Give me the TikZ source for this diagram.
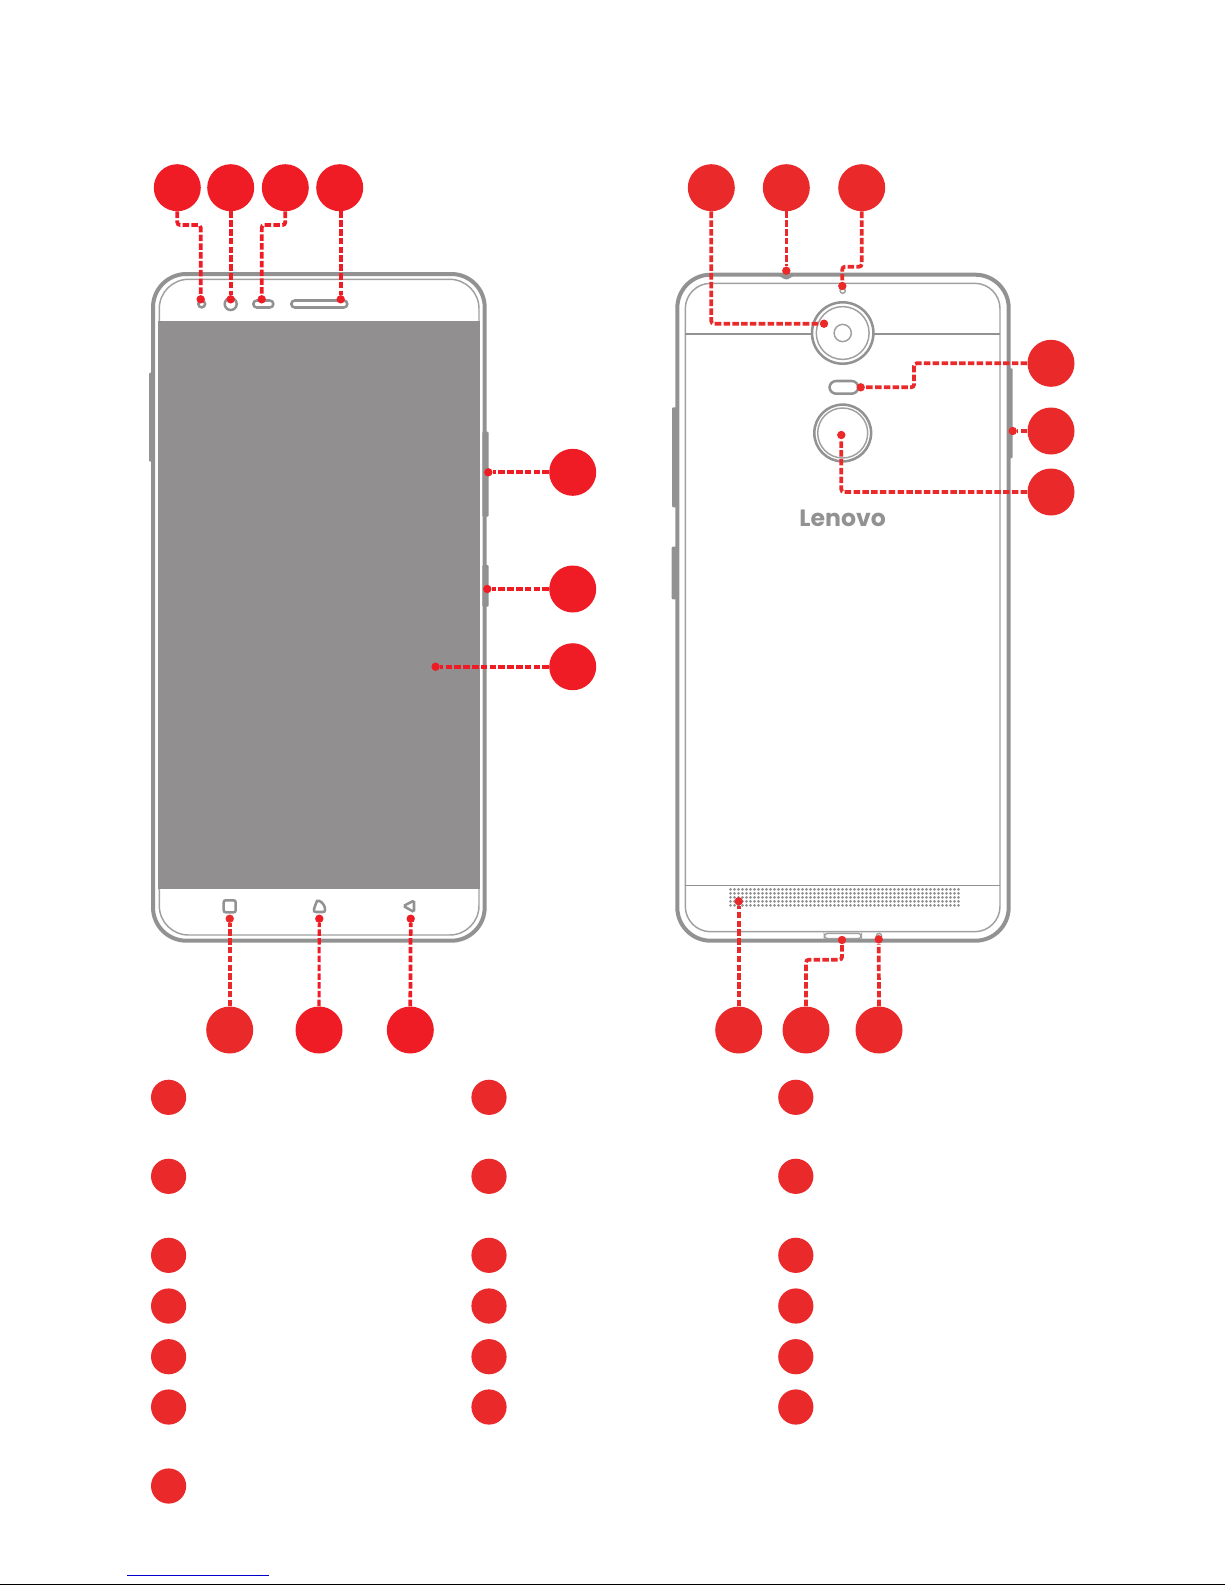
\documentclass[tikz,border=0pt]{standalone}
\usepackage{fontspec}
\newfontfamily\logofont{Poppins}
\definecolor{rouge}{RGB}{239, 28, 37}
\definecolor{rougepale}{RGB}{234, 41, 43}
\definecolor{gris}{RGB}{146, 146, 146}
\definecolor{grisclair}{RGB}{160, 160, 160}
\definecolor{ecran}{RGB}{145, 143, 143}

\begin{document}
\begin{tikzpicture}[x=0.75pt, y=-0.75pt]
		% STYLES
		\tikzstyle{coque} = [line width=3pt, draw=gris, rounded corners=25pt]
		\tikzstyle{bord} = [line width=1.1pt, draw=grisclair]
		\tikzstyle{ligne} = [line width=1.2pt, draw=gris]
		\tikzstyle{trait} = [line width=1.9pt, draw=gris]
		\tikzstyle{bouton} = [fill=gris, draw=none, rounded corners=0.8pt]
		\tikzstyle{bulle} = [circle, inner sep=0pt, minimum size=35.25pt, fill=#1]
		\tikzstyle{liste} = [circle, inner sep=0pt, minimum size=26.4pt, fill=rougepale]
		\tikzstyle{point} = [circle, inner sep=0pt, minimum size=6.3pt, fill=#1]
		\tikzstyle{fil} = [line width=2.8pt, draw=#1, dash pattern=on 4.9pt off 1.7pt, rounded corners=2pt]

		\useasboundingbox (0, 0) rectangle (1225, 1585);

		% FACE AVANT
		\draw[bord, rounded corners=22pt] (159.3, 279.3) rectangle (479, 935);
		\fill[ecran] (158, 321) rectangle (480, 888.7);
		\draw[coque] (153, 274) rectangle (484.7, 940.7);
		\fill[bouton] (149, 372.7) rectangle (153, 461.7);
		\fill[bouton] (482.3, 431.7) rectangle (488.7, 516.7);
		\fill[bouton] (482.3, 565) rectangle (488.7, 606.7);
		% capteurs
		\draw[trait] (201.7, 304) circle (3.4);
		\draw[trait] (230.7, 304) circle (6);
		\draw[trait, rounded corners=2.6pt] (253.3, 300.5) rectangle (273.3, 307.5);
		\draw[trait, rounded corners=2.6pt] (291.3, 300.5) rectangle (347.3, 307.5);
		% touches
		\draw[trait, rounded corners=1.5pt] (223.7, 900.3) rectangle (235.7, 912.3);
		\draw[trait] (317, 901) -- (319.5, 901) .. controls (323, 902.5) and (325.5, 907) .. (325, 910)
			.. controls (325, 911.5) and (324, 912) .. (323, 912) -- (316, 912)
			.. controls (314, 912) and (313.5, 911) .. (314, 909) .. controls (314.5, 906.5) and (316, 904) .. (317, 901) -- cycle;
		\draw[trait, rounded corners=1.2pt] (414, 900.5) -- (403.5, 906) -- (414, 912) -- cycle;

		% FACE ARRIERE
		\draw[bord, rounded corners=19pt] (685.3, 283.3) rectangle (1000, 931.7);
		\draw[coque] (677.3, 274.7) rectangle (1008.7, 940.7);
		\fill[gris] (775, 275) .. controls (782, 276) and (783, 279.5) .. (786.3, 279.5)
			.. controls (789.6, 279.5) and (790.6, 276) .. (797.6, 275) -- cycle;
		\fill[bouton] (1007.7, 368.3) rectangle (1012.7, 458.3);
		\fill[bouton] (672, 407.3) rectangle (677, 507.3);
		\fill[bouton] (671.7, 546.7) rectangle (677, 599.3);
		\draw[ligne] (685.3, 333.7) -- (811, 333.7);
		\draw[ligne] (874.4, 333.7) -- (1000, 333.7);
		\draw[ligne] (685.3, 885.3) -- (1000, 885.3);
		% photo
		\draw[bord] (842.7, 290.7) circle (2.6);
		\draw[trait] (842.7, 333) circle (30.7);
		\draw[bord] (842.7, 333) circle (26.4);
		\draw[bord] (842.7, 333) circle (8.6);
		\draw[trait, rounded corners=5pt] (829.5, 381) rectangle (858.3, 393.7);
		\draw[trait] (842.7, 433) circle (28.4);
		\draw[bord] (842.7, 433) circle (25);
		\node[text=gris, anchor=base, font=\logofont\bfseries\fontsize{17.7}{17.7}\selectfont] (logo) at (842.7, 526) {Lenovo};
		% bas
		\foreach \x in {0, ..., 57}
			\foreach \y in {0, ..., 4}
				\fill[gris] (730.5+\x*4, 889.3+\y*4) circle (1.5);
		\draw[bord, rounded corners=2.5pt] (824.3, 933.3) rectangle (861.3, 938.7);
		\draw[bord] (879, 936) circle (2.6);

		% BULLES
		\foreach \x/\y/\nom in {177.3/187.7/fa, 230.7/187.7/fb, 285.3/187.7/fc, 339.7/187.7/fd,
				572.7/472.3/fe, 572.7/589/ff, 572.7/666.7/fg,
				319/1030/fi, 410.3/1030/fj}
			\node[bulle=rouge] (\nom) at (\x, \y) {};
		\foreach \x/\y/\nom in {229.7/1030/fh, 711.3/187.7/ba, 786.3/187.7/bb, 861.7/187.7/bc,
				1051/363.3/bd, 1051/431/be, 1051/492/bf,
				738.7/1030/bg, 806/1030/bh, 879/1030/bi}
			\node[bulle=rougepale] (\nom) at (\x, \y) {};

		% POINTS
		\foreach \x/\y/\nom in {200.7/299.3/pa, 230.7/299.3/pb, 261.7/299.3/pc, 340.7/299.3/pd,
				488.3/472.3/pe, 487.3/589/pf, 435.6/666.7/pg,
				319.3/918.7/pi, 410.7/918.7/pj}
			\node[point=rouge] (\nom) at (\x, \y) {};
		\foreach \x/\y/\nom in {229.7/918.7/ph, 824/323.7/qa, 786.3/270.7/qb, 842.3/286/qc,
				860.7/387.3/qd, 1012.7/431/qe, 841.3/435/qf,
				738.7/901.3/qg, 842/940/qh, 878.7/939.3/qi}
			\node[point=rougepale] (\nom) at (\x, \y) {};

		% COUDES
		\coordinate (ka) at (200.7, 225);
		\coordinate (kc) at (261.7, 225);
		\coordinate (kd) at (842.3, 266.7);
		\coordinate (ke) at (914, 387.3);
		\coordinate (kf) at (842, 959.7);

		% FILS
		\draw[fil=rouge] (fa.south) |- (ka) -- (pa);
		\draw[fil=rouge] (fb.south) -- (pb);
		\draw[fil=rouge] (fc.south) |- (kc) -- (pc);
		\draw[fil=rouge] (fd.south -| pd) -- (pd);
		\draw[fil=rouge] (fe.west) -- (pe);
		\draw[fil=rouge] (ff.west) -- (pf);
		\draw[fil=rouge] (fg.west) -- (pg);
		\draw[fil=rougepale] (fh.north) -- (ph);
		\draw[fil=rouge, line width=2.3pt] (fi.north) -- (pi);
		\draw[fil=rouge] (fj.north) -- (pj);
		\draw[fil=rougepale] (ba.south) |- (qa);
		\draw[fil=rougepale, line width=2.3pt] (bb.south) -- (qb);
		\draw[fil=rougepale] (bc.south) |- (kd) -- (qc);
		\draw[fil=rougepale] (bd.west) -| (ke) -- (qd);
		\draw[fil=rougepale] (be.west) -- (qe);
		\draw[fil=rougepale] (bf.west) -| (qf);
		\draw[fil=rougepale] (bg.north) -- (qg);
		\draw[fil=rougepale] (bh.north) |- (kf) -- (qh);
		\draw[fil=rougepale] (bi.north) -- (qi);

		% LISTE
		\foreach \x/\col in {168.6/a, 489/b, 795.8/c}
			\foreach \y/\lig in {1097.3/a, 1176.3/b, 1255.3/c, 1306/d, 1356.7/e, 1407/f}
				\node[liste] (l\col\lig) at (\x, \y) {};
		\node[liste] (lag) at (168.6, 1486) {};

		% PIED
		\draw[line width=0.8pt, draw=blue!80!black] (127.3, 1575.3) -- (268.7, 1575.3);
		\draw[line width=0.9pt, draw=black] (0, 1584.3) -- (1225, 1584.3);
\end{tikzpicture}
\end{document}
